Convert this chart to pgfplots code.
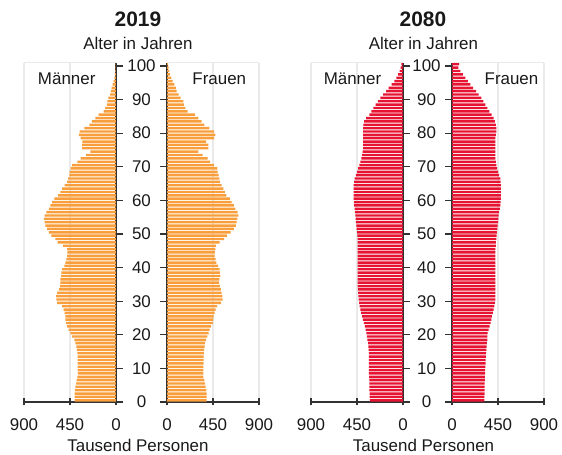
\documentclass[border=0pt]{standalone}
\usepackage{fontspec}
\setmainfont{Liberation Sans}
\usepackage{pgfplots}
\usepackage{pgfplotstable}
\pgfplotsset{compat=1.18}

\definecolor{orange19}{RGB}{248,158,60}
\definecolor{red80}{RGB}{230,20,50}
\definecolor{gridgray}{RGB}{234,234,234}
\definecolor{axisgray}{RGB}{50,50,50}
\definecolor{txt}{RGB}{25,25,25}

% Bevoelkerung in Tausend, nach Alter
\pgfplotstableread{
age m19 f19 m80 f80
0 405 388 325 316
1 405 388 326 317
2 405 388 327 318
3 403 386 328 319
4 398 378 328 320
5 390 372 329 320
6 384 365 330 321
7 378 357 332 322
8 374 355 333 324
9 375 355 334 325
10 375 357 335 326
11 375 358 335 328
12 375 358 335 330
13 375 359 335 332
14 378 360 335 334
15 382 364 336 336
16 388 368 338 339
17 398 374 342 342
18 408 382 348 345
19 431 395 353 347
20 447 406 358 349
21 463 418 366 358
22 479 432 374 369
23 489 448 382 378
24 495 453 392 385
25 495 455 401 391
26 502 466 409 400
27 512 476 417 408
28 528 490 424 414
29 576 530 430 420
30 583 545 434 424
31 586 542 437 424
32 576 535 439 424
33 560 527 441 424
34 547 518 443 424
35 544 511 443 424
36 544 512 443 424
37 537 522 443 424
38 534 518 443 424
39 528 516 443 424
40 505 500 443 424
41 495 482 443 424
42 486 475 443 424
43 479 467 443 424
44 476 469 443 424
45 479 474 443 424
46 518 478 443 428
47 570 515 443 430
48 592 560 445 434
49 631 585 447 437
50 657 622 450 440
51 673 655 453 443
52 690 675 456 447
53 699 681 460 450
54 706 688 463 454
55 699 698 466 457
56 680 690 470 462
57 657 668 474 468
58 641 655 478 473
59 625 633 481 476
60 602 616 483 479
61 567 580 483 479
62 544 567 483 479
63 528 551 483 479
64 502 535 483 479
65 479 518 478 476
66 469 512 473 473
67 456 505 462 462
68 453 496 450 450
69 444 492 438 442
70 428 460 427 434
71 379 421 417 428
72 347 398 407 424
73 292 349 400 424
74 250 307 395 424
75 331 404 391 424
76 331 404 391 424
77 328 382 391 424
78 347 460 391 424
79 363 473 391 428
80 357 460 391 434
81 309 414 390 434
82 260 365 388 430
83 235 339 380 420
84 202 307 361 408
85 170 274 330 387
86 122 202 310 365
87 106 179 290 346
88 90 166 268 326
89 84 160 245 306
90 74 134 222 287
91 58 114 195 261
92 51 95 166 235
93 42 88 140 207
94 32 72 112 179
95 24 55 85 155
96 17 42 64 130
97 11 29 47 106
98 7 23 33 82
99 4 16 23 62
100 3 10 16 70
}\pop

\pgfplotsset{
  pyramid/.style={
    scale only axis, width=92bp, height=339.4bp,
    ymin=0, ymax=101, enlargelimits=false,
    ytick={0,10,...,100},
    xbar, bar width=0.72,
    tick align=outside, major tick length=7bp,
    xtick style={yshift=3.5bp, axisgray, line width=1.2bp},
    ytick style={axisgray, line width=1.2bp},
    axis line style={axisgray, line width=1.2bp},
    xmajorgrids, grid style={gridgray, line width=1.3bp},
    tick label style={font=\fontsize{17}{20}\selectfont, text=txt},
    /pgf/number format/assume math mode=true,
    xticklabel style={anchor=base, yshift=-21.2bp},
    clip=false,
  },
  men/.style={pyramid, anchor=south west,
    xmin=-900, xmax=0, xtick={-900,-450,0}, xticklabels={900,450,0},
    axis x line*=bottom, axis y line*=right, yticklabels={}},
  women/.style={pyramid, anchor=south west,
    xmin=0, xmax=900, xtick={0,450,900}, xticklabels={0,450,900},
    axis x line*=bottom, axis y line*=left,
    yticklabel style={anchor=center, xshift=-18.5bp}},
}

\begin{document}
\begin{tikzpicture}
\tikzset{lbl/.style={font=\fontsize{17}{20}\selectfont, text=txt, anchor=base},
         ttl/.style={font=\fontsize{21}{24}\selectfont\bfseries, text=txt}}

% ---- 2019 ----
\begin{axis}[men, at={(24bp,53bp)}]
  \addplot[fill=orange19, draw=none] table[x expr=-\thisrow{m19}, y expr=\thisrow{age}+0.5] {\pop};
  \draw[gridgray, line width=1.3bp] (rel axis cs:0,1) -- (rel axis cs:1,1);
\end{axis}
\begin{axis}[women, at={(167bp,53bp)}]
  \addplot[fill=orange19, draw=none] table[x=f19, y expr=\thisrow{age}+0.5] {\pop};
  \draw[gridgray, line width=1.3bp] (rel axis cs:0,1) -- (rel axis cs:1,1);
\end{axis}

% ---- 2080 ----
\begin{axis}[men, at={(311bp,53bp)}]
  \addplot[fill=red80, draw=none] table[x expr=-\thisrow{m80}, y expr=\thisrow{age}+0.5] {\pop};
  \draw[gridgray, line width=1.3bp] (rel axis cs:0,1) -- (rel axis cs:1,1);
\end{axis}
\begin{axis}[women, at={(452bp,53bp)}]
  \addplot[fill=red80, draw=none] table[x=f80, y expr=\thisrow{age}+0.5] {\pop};
  \draw[gridgray, line width=1.3bp] (rel axis cs:0,1) -- (rel axis cs:1,1);
\end{axis}

% titles and labels
\node[ttl] at (138bp,436bp) {2019};
\node[lbl] at (138bp,405.7bp) {Alter in Jahren};
\node[lbl] at (66.7bp,370bp) {Männer};
\node[lbl] at (219.3bp,370bp) {Frauen};
\node[lbl] at (138bp,3.5bp) {Tausend Personen};

\node[ttl] at (423bp,436bp) {2080};
\node[lbl] at (423.5bp,405.7bp) {Alter in Jahren};
\node[lbl] at (352.5bp,370bp) {Männer};
\node[lbl] at (511.5bp,370bp) {Frauen};
\node[lbl] at (423.5bp,3.5bp) {Tausend Personen};

\pgfresetboundingbox
\path[use as bounding box] (0,0) rectangle (562bp,455bp);
\end{tikzpicture}
\end{document}
